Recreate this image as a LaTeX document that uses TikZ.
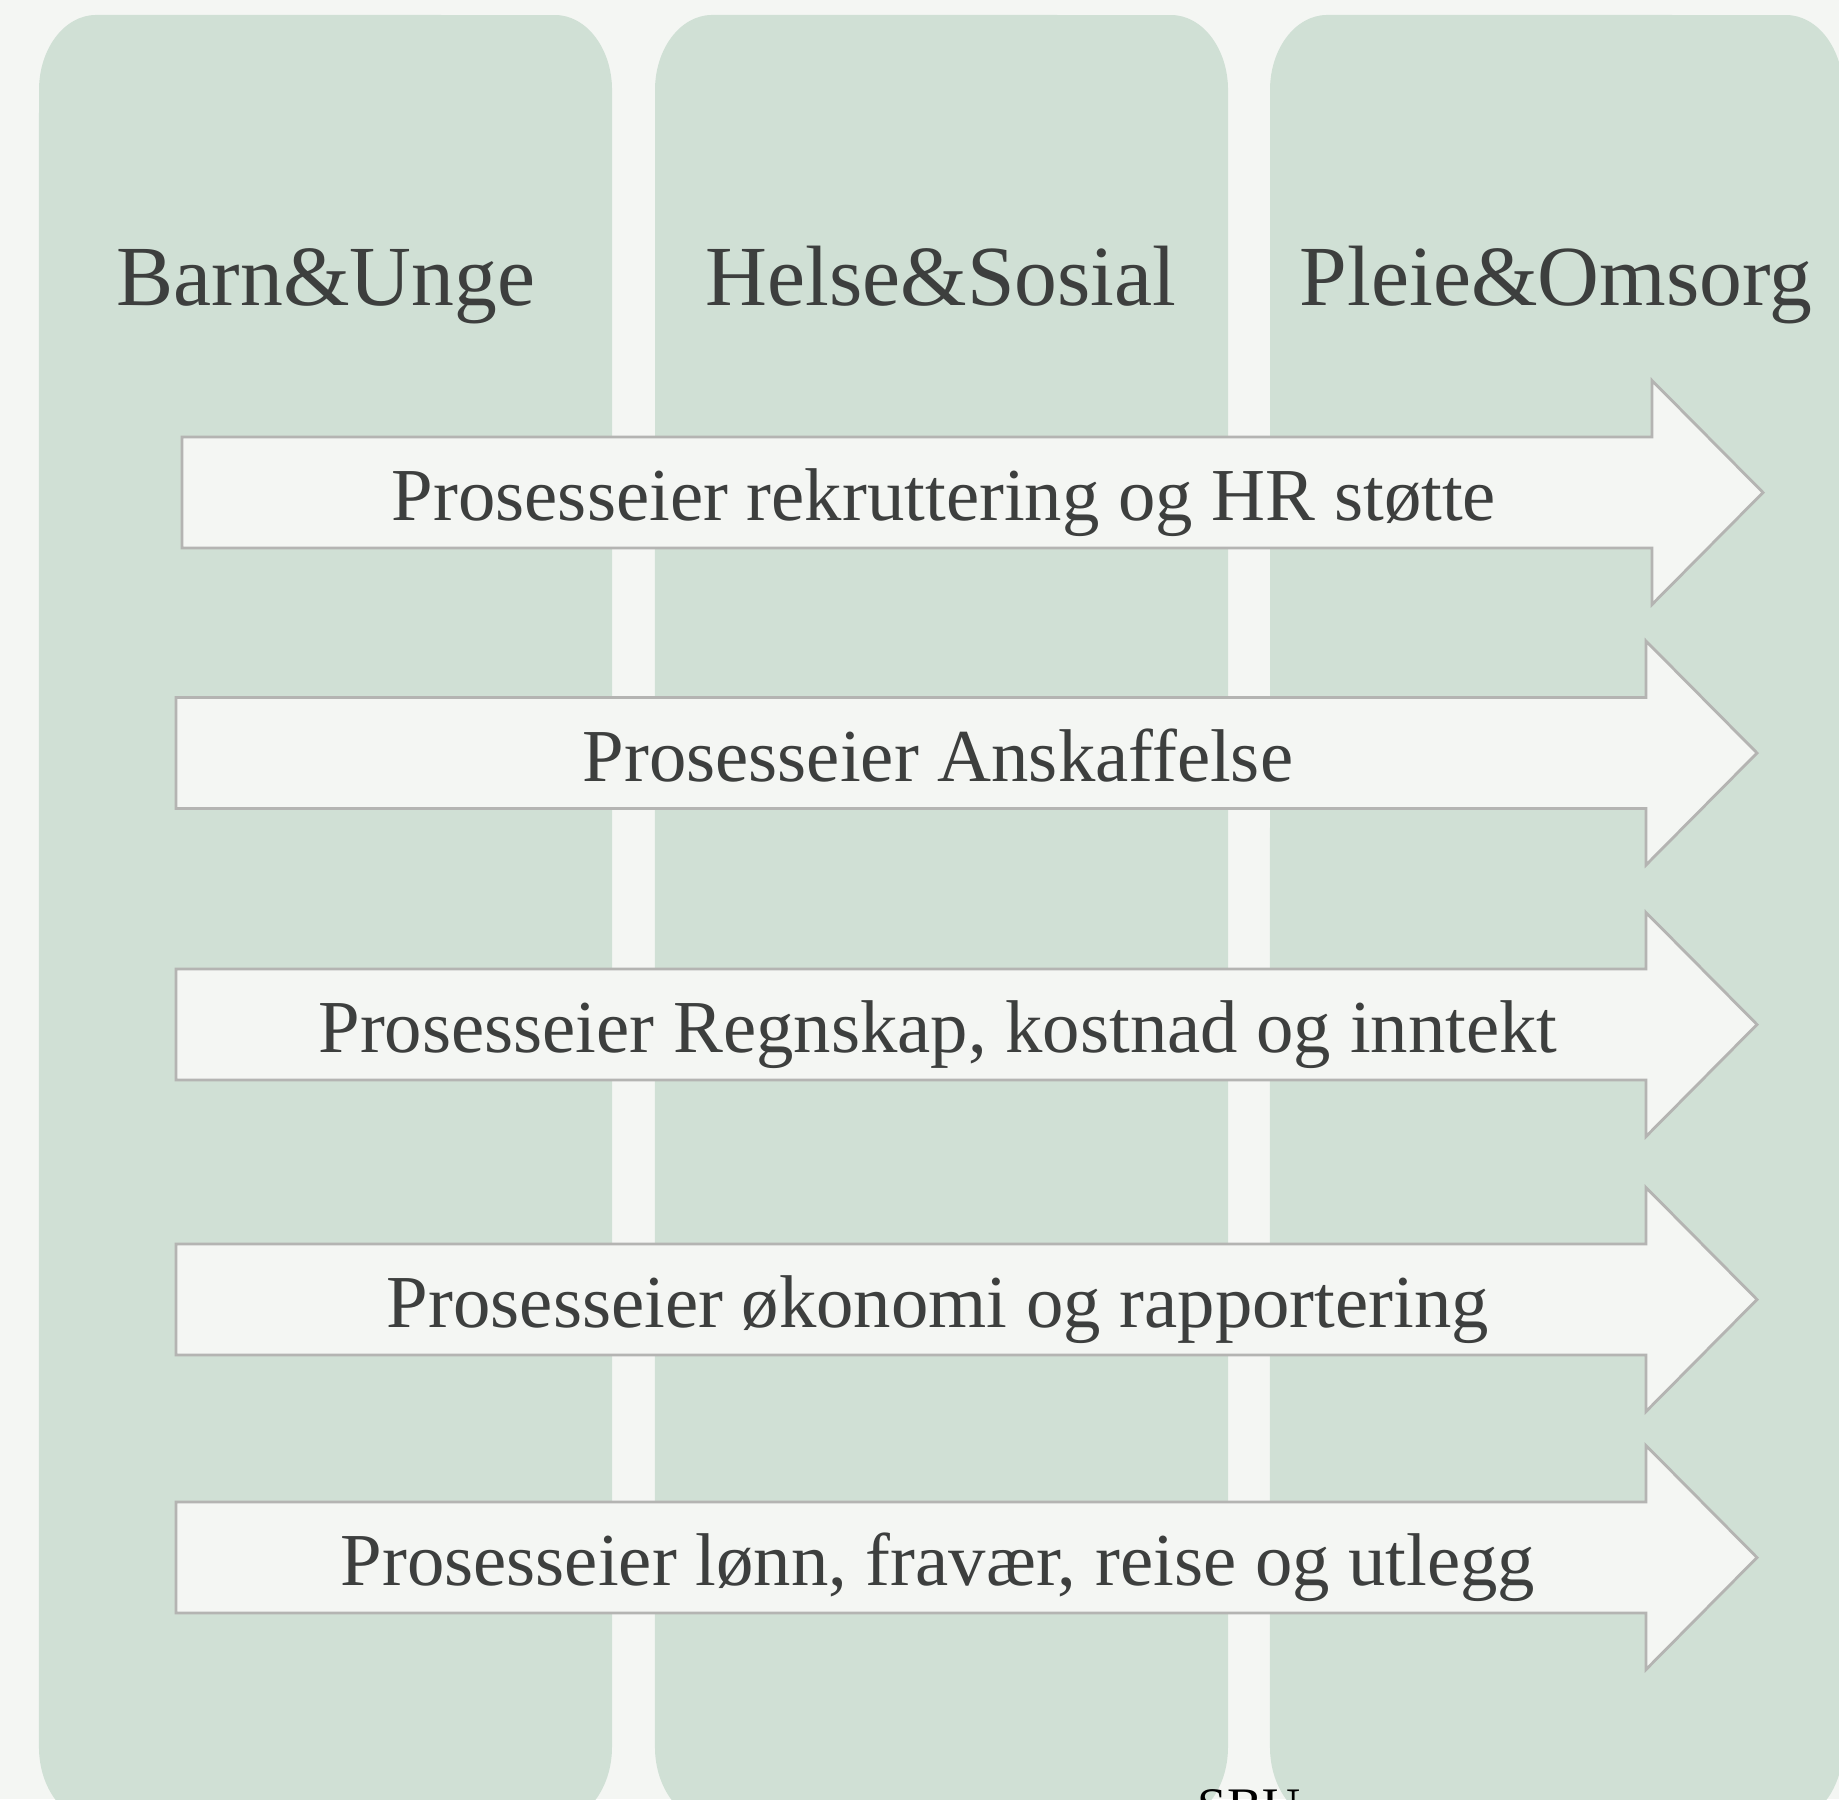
\documentclass[tikz,border=0pt]{standalone}
\usepackage{fontspec}
\setmainfont{Liberation Serif}
\usetikzlibrary{calc,positioning}
\definecolor{bakgrunn}{HTML}{F4F6F3}
\definecolor{kolonne}{HTML}{D0E0D5}
\definecolor{kant}{HTML}{B4B4B2}
\definecolor{tekst}{HTML}{3D3F3E}
% column with oval corners: left, right, top, bottom
\newcommand{\saule}[4]
	{
	\fill[kolonne] (#1,#3+75)
		arc[start angle=180, end angle=90, x radius=.57cm, y radius=.75cm] -- (#2-57,#3)
		arc[start angle=90, end angle=0, x radius=.57cm, y radius=.75cm] -- (#2,#4-75)
		arc[start angle=0, end angle=-90, x radius=.57cm, y radius=.75cm] -- (#1+57,#4)
		arc[start angle=-90, end angle=-180, x radius=.57cm, y radius=.75cm] -- cycle;
	}
% block arrow: left end, middle
\newcommand{\pil}[2]
	{
	\draw[pilkant] (#1,#2-55.5) -- (#1+1470,#2-55.5) -- (#1+1470,#2-112) -- (#1+1581,#2)
		-- (#1+1470,#2+112) -- (#1+1470,#2+55.5) -- (#1,#2+55.5) -- cycle;
	}
\tikzset{
	pilkant/.style={draw=kant, fill=bakgrunn, line width=.8pt, line join=miter},
	tittel/.style={anchor=base, text=tekst, font=\fontsize{24.35}{28}\selectfont, inner sep=0pt},
	prosess/.style={anchor=base, text=tekst, font=\fontsize{21.25}{25}\selectfont, inner sep=0pt}
}

\begin{document}
\begin{tikzpicture}[x=0.01cm, y=-0.01cm]
    \fill[bakgrunn] (0,0) rectangle (1839,1799);
    \useasboundingbox (0,0) rectangle (1839,1799);
    \clip (0,0) rectangle (1839,1799);

    % columns
    \saule{39}{612}{15}{1822}
    \saule{655}{1228}{15}{1822}
    \saule{1270}{1843}{15}{1822}
    \node[tittel] (barn) at (326,305) {Barn\&Unge};
    \node[tittel] (helse) at (941,305) {Helse\&Sosial};
    \node[tittel] (pleie) at (1556,305) {Pleie\&Omsorg};

    % arrows
    \pil{182}{492.5}
    \pil{176}{753}
    \pil{176}{1024.5}
    \pil{176}{1299.5}
    \pil{176}{1557.5}
    \node[prosess] (rekruttering) at (944,520) {Prosesseier rekruttering og HR støtte};
    \node[prosess] (anskaffelse) at (938,781) {Prosesseier Anskaffelse};
    \node[prosess] (regnskap) at (938,1052) {Prosesseier Regnskap, kostnad og inntekt};
    \node[prosess] (okonomi) at (938,1327) {Prosesseier økonomi og rapportering};
    \node[prosess] (lonn) at (938,1585) {Prosesseier lønn, fravær, reise og utlegg};

    \node[anchor=base west, font=\fontsize{15}{17}\selectfont, inner sep=0pt] (sbu) at (1197,1824) {SBU};
\end{tikzpicture}
\end{document}
